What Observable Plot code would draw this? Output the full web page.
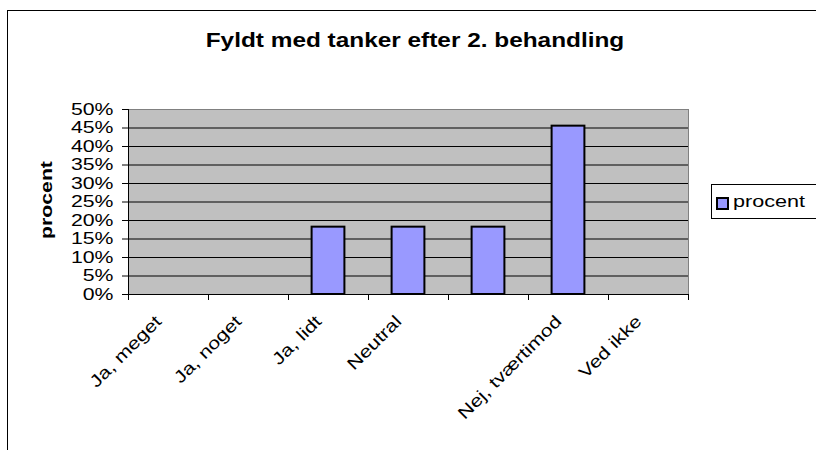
<!DOCTYPE html>
<html>
<head>
<meta charset="utf-8">
<script src="https://cdn.jsdelivr.net/npm/d3@7"></script>
<script src="https://cdn.jsdelivr.net/npm/@observablehq/plot@0.6"></script>
<style>
  html, body { margin: 0; padding: 0; background: #fff; }
  #wrap { position: relative; width: 816px; height: 450px; overflow: hidden; font-family: 'Liberation Sans', Arial, sans-serif; }
  #outer { position: absolute; left: 7px; top: 10px; width: 1000px; height: 1000px; border: 1px solid #000; box-sizing: border-box; }
  #chart { position: absolute; left: 0; top: 0; }
  #legend { position: absolute; left: 711px; top: 184px; width: 160px; height: 35px; border: 1px solid #000; background: #fff; box-sizing: border-box; }
  #legend .sw { position: absolute; left: 4px; top: 12px; width: 13px; height: 13px; border: 2px solid #000; box-sizing: border-box; background: #9999ff; }
  #legend .lt { position: absolute; left: 21px; top: 8px; font-size: 17px; line-height: 1; transform: scaleX(1.27); transform-origin: left center; white-space: nowrap; }
</style>
</head>
<body>
<div id="wrap">
  <div id="outer"></div>
  <div id="chart"></div>
  <div id="legend"><div class="sw"></div><span class="lt">procent</span></div>
</div>
<script>
const titleText = "Fyldt med tanker efter 2. behandling";
const yLabel = "procent";
const categories = ["Ja, meget", "Ja, noget", "Ja, lidt", "Neutral", "", "Nej, tværtimod", "Ved ikke"];
const values = [0, 0, 0.182, 0.182, 0.182, 0.455, 0];
const yTicks = [0, 0.05, 0.10, 0.15, 0.20, 0.25, 0.30, 0.35, 0.40, 0.45, 0.50];

const data = categories.map((c, i) => ({i, c, v: values[i]}));
const n = categories.length;
const barHalf = 0.205;
const stretch = 1.25;

const plot = Plot.plot({
  width: 816,
  height: 450,
  marginLeft: 128,
  marginRight: 128,
  marginTop: 109,
  marginBottom: 156,
  style: {fontFamily: "'Liberation Sans', Arial, sans-serif", fontSize: "17px", background: "transparent", color: "#000"},
  x: {domain: [-0.5, n - 0.5], axis: null},
  y: {domain: [0, 0.5], axis: null},
  marks: [
    Plot.frame({fill: "#c0c0c0", stroke: "#808080"}),
    Plot.gridY(yTicks.slice(1, -1), {stroke: "#000", strokeOpacity: 1, strokeWidth: 1}),
    Plot.ruleY([0], {stroke: "#000"}),
    Plot.ruleX([-0.5], {stroke: "#000"}),
    Plot.rectY(data.filter(d => d.v > 0), {x1: d => d.i - barHalf, x2: d => d.i + barHalf, y1: 0, y2: d => d.v, fill: "#9999ff", stroke: "#000", strokeWidth: 2}),
    Plot.axisY({ticks: yTicks, tickFormat: d3.format(".0%"), tickSize: 6, tickPadding: 9, fontSize: 17, label: null}),
    Plot.axisX({ticks: d3.range(-0.5, n), tickFormat: () => "", tickSize: 6, label: null}),
    Plot.text(data.filter(d => d.c !== ""), {x: "i", text: "c", frameAnchor: "bottom", rotate: -45, textAnchor: "end", dx: -6, dy: 28, fontSize: 17}),
    Plot.text([yLabel], {text: d => d, frameAnchor: "left", textAnchor: "middle", rotate: -90, dx: -82, dy: -2, fontWeight: "bold", fontSize: 17}),
    Plot.text([titleText], {text: d => d, frameAnchor: "top", textAnchor: "middle", lineAnchor: "top", dx: 6.5, dy: -76, fontWeight: "bold", fontSize: 19.5})
  ]
});
document.getElementById("chart").appendChild(plot);
plot.querySelectorAll("text").forEach(t => {
  if (!t.textContent) return;
  const tr = t.getAttribute("transform") || "";
  if (tr.includes("rotate")) {
    t.setAttribute("transform", tr + ` scale(${stretch},1)`);
  } else {
    const L = t.getComputedTextLength();
    t.setAttribute("textLength", L * stretch);
    t.setAttribute("lengthAdjust", "spacingAndGlyphs");
  }
});
</script>
</body>
</html>
